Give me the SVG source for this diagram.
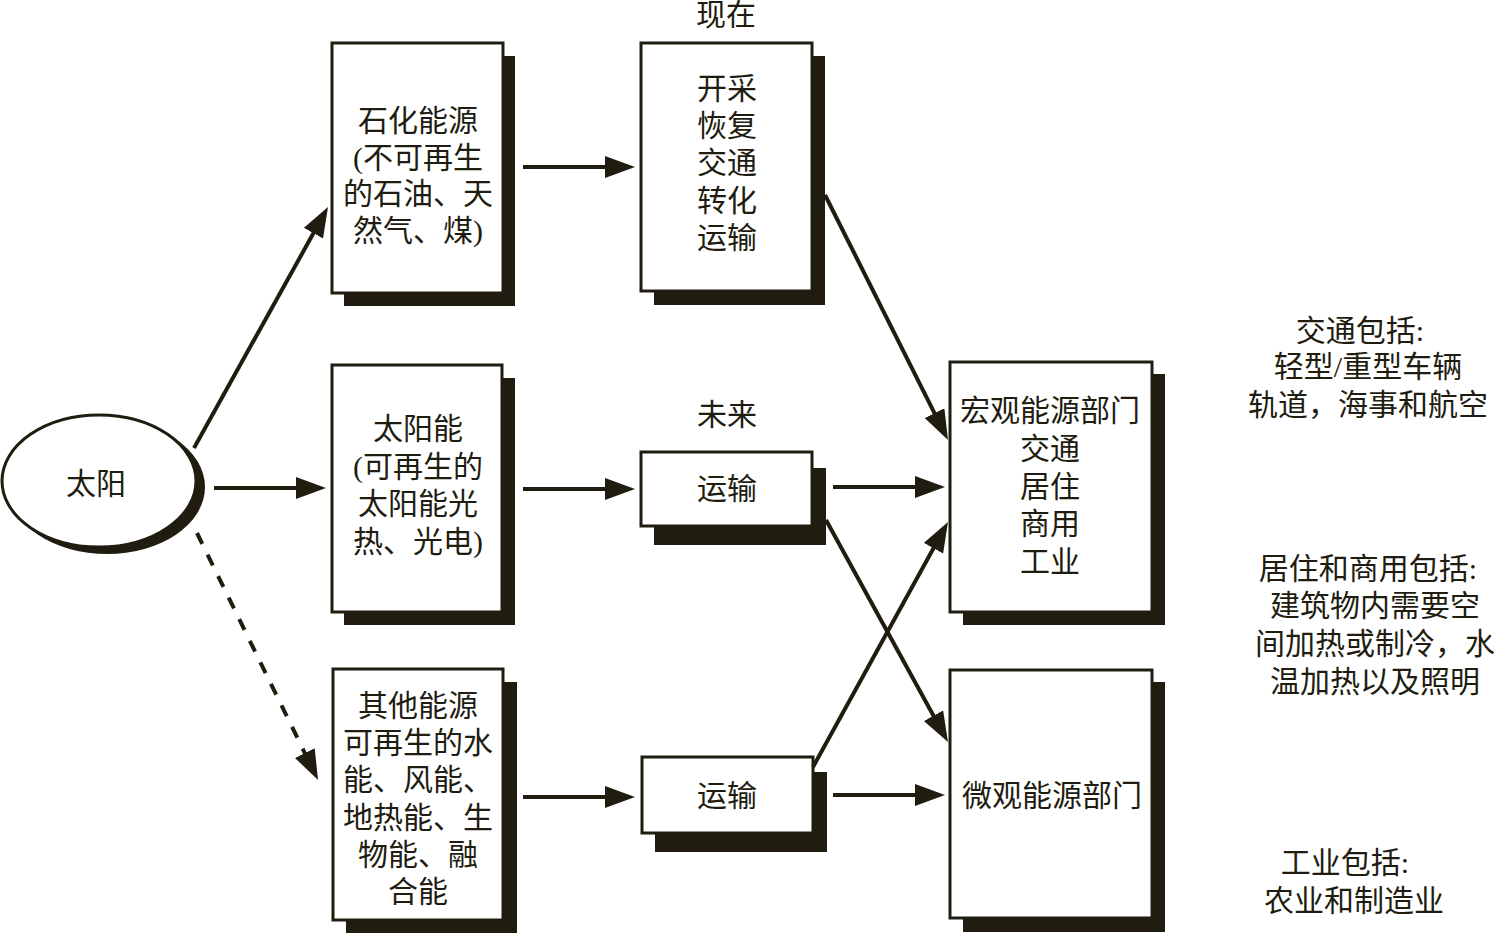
<svg xmlns="http://www.w3.org/2000/svg" width="1499" height="935" viewBox="0 0 1499 935">
<style>
.sh{fill:#211c10}
.bx{fill:#fff;stroke:#211c10;stroke-width:3}
text{font-family:"Liberation Serif","Noto Sans CJK SC",serif;font-size:30px;fill:#211c10;text-anchor:middle}
.ln{stroke:#211c10;stroke-width:4;fill:none}
</style>
<defs>
<marker id="ah" markerWidth="32" markerHeight="24" refX="22" refY="11" orient="auto" markerUnits="userSpaceOnUse">
<path d="M0,0 L30,11 L0,22 Z" fill="#211c10"/>
</marker>
</defs>
<rect width="1499" height="935" fill="#fff"/>
<g id="sun">
<ellipse cx="107" cy="487" rx="98" ry="67" fill="#211c10"/>
<ellipse cx="99" cy="481" rx="97" ry="66" fill="#fff" stroke="#211c10" stroke-width="3"/>
<text x="96" y="494">太阳</text>
</g>
<g id="fossil">
<rect class="sh" x="344" y="56" width="171" height="250"/>
<rect class="bx" x="332" y="43" width="171" height="250"/>
<text x="418" y="131">石化能源</text>
<text x="418" y="168">(不可再生</text>
<text x="418" y="204">的石油、天</text>
<text x="418" y="241">然气、煤)</text>
</g>
<g id="now">
<text x="726" y="25">现在</text>
<rect class="sh" x="654" y="56" width="171" height="249"/>
<rect class="bx" x="641" y="43" width="171" height="248"/>
<text x="727" y="99">开采</text>
<text x="727" y="136">恢复</text>
<text x="727" y="173">交通</text>
<text x="727" y="211">转化</text>
<text x="727" y="248">运输</text>
</g>
<g id="solar">
<rect class="sh" x="344" y="378" width="171" height="247"/>
<rect class="bx" x="332" y="365" width="170" height="247"/>
<text x="418" y="439">太阳能</text>
<text x="418" y="477">(可再生的</text>
<text x="418" y="514">太阳能光</text>
<text x="418" y="552">热、光电)</text>
</g>
<g id="future">
<text x="727" y="425">未来</text>
<rect class="sh" x="654" y="468" width="172" height="77"/>
<rect class="bx" x="641" y="452" width="171" height="74"/>
<text x="727" y="499">运输</text>
</g>
<g id="other">
<rect class="sh" x="346" y="682" width="171" height="251"/>
<rect class="bx" x="333" y="669" width="170" height="251"/>
<text x="418" y="716">其他能源</text>
<text x="418" y="753">可再生的水</text>
<text x="418" y="790">能、风能、</text>
<text x="418" y="828">地热能、生</text>
<text x="418" y="865">物能、融</text>
<text x="418" y="902">合能</text>
</g>
<g id="transport2">
<rect class="sh" x="655" y="772" width="172" height="80"/>
<rect class="bx" x="642" y="757" width="171" height="76"/>
<text x="727" y="806">运输</text>
</g>
<g id="macro">
<rect class="sh" x="963" y="374" width="202" height="251"/>
<rect class="bx" x="950" y="362" width="202" height="250"/>
<text x="1050" y="421">宏观能源部门</text>
<text x="1050" y="459">交通</text>
<text x="1050" y="497">居住</text>
<text x="1050" y="534">商用</text>
<text x="1050" y="572">工业</text>
</g>
<g id="micro">
<rect class="sh" x="963" y="682" width="202" height="250"/>
<rect class="bx" x="950" y="670" width="202" height="248"/>
<text x="1052" y="806">微观能源部门</text>
</g>
<g id="notes">
<text x="1360" y="341">交通包括:</text>
<text x="1368" y="377">轻型/重型车辆</text>
<text x="1368" y="415">轨道，海事和航空</text>
<text x="1368" y="579">居住和商用包括:</text>
<text x="1375" y="616">建筑物内需要空</text>
<text x="1375" y="654">间加热或制冷，水</text>
<text x="1375" y="692">温加热以及照明</text>
<text x="1345" y="873">工业包括:</text>
<text x="1354" y="911">农业和制造业</text>
</g>
<g id="connectors">
<line class="ln" x1="194" y1="448" x2="324.1" y2="214" marker-end="url(#ah)"/>
<line class="ln" x1="214" y1="488" x2="318" y2="488" marker-end="url(#ah)"/>
<line class="ln" x1="197" y1="533" x2="314.5" y2="772.8" stroke-dasharray="12 12" marker-end="url(#ah)"/>
<line class="ln" x1="523" y1="167" x2="627" y2="167" marker-end="url(#ah)"/>
<line class="ln" x1="523" y1="489" x2="627" y2="489" marker-end="url(#ah)"/>
<line class="ln" x1="523" y1="797" x2="627" y2="797" marker-end="url(#ah)"/>
<line class="ln" x1="825" y1="195" x2="944.4" y2="432.8" marker-end="url(#ah)"/>
<line class="ln" x1="833" y1="487" x2="937" y2="487" marker-end="url(#ah)"/>
<line class="ln" x1="826" y1="520" x2="944.1" y2="735" marker-end="url(#ah)"/>
<line class="ln" x1="813" y1="767" x2="944.1" y2="529" marker-end="url(#ah)"/>
<line class="ln" x1="833" y1="795" x2="937" y2="795" marker-end="url(#ah)"/>
</g>
</svg>
